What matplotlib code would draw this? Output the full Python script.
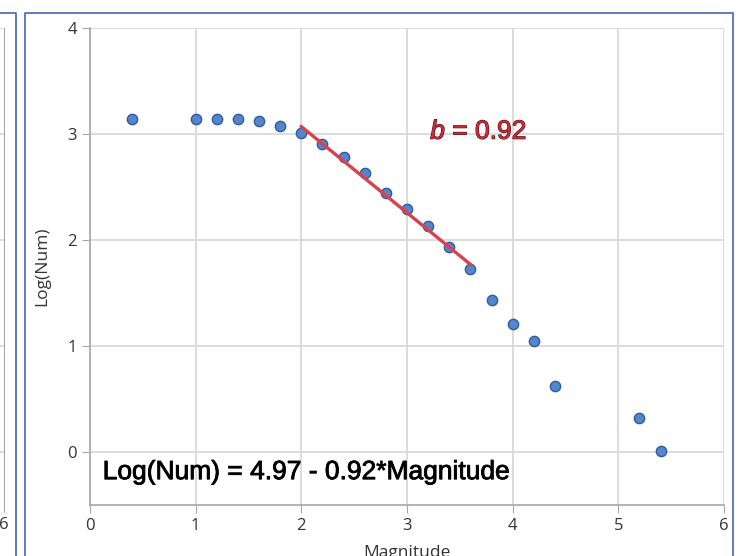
import matplotlib.pyplot as plt
import matplotlib.patheffects as pe
from matplotlib.lines import Line2D

# Data
magnitude = [0.4, 1.0, 1.2, 1.4, 1.6, 1.8, 2.0, 2.2, 2.4, 2.6, 2.8,
             3.0, 3.2, 3.4, 3.6, 3.8, 4.0, 4.2, 4.4, 5.2, 5.4]
log_num = [3.14, 3.14, 3.14, 3.14, 3.12, 3.08, 3.01, 2.91, 2.78, 2.63, 2.44,
           2.29, 2.13, 1.93, 1.73, 1.43, 1.21, 1.05, 0.62, 0.32, 0.01]
fit_x = [2.0, 3.6]
fit_y = [3.07, 1.77]
x_ticks = [0, 1, 2, 3, 4, 5, 6]
y_ticks = [0, 1, 2, 3, 4]
b_label = "$b$ = 0.92"
eq_label = "Log(Num) = 4.97 - 0.92*Magnitude"

plt.rcParams['font.family'] = ['Open Sans', 'DejaVu Sans']
plt.rcParams['mathtext.fontset'] = 'custom'
plt.rcParams['mathtext.rm'] = 'Liberation Sans'
plt.rcParams['mathtext.it'] = 'Liberation Sans:italic'

W, H = 756, 556
fig = plt.figure(figsize=(W / 100, H / 100), dpi=100)

def fx(px):
    return px / W

def fy(py):
    return 1 - py / H

grid_col = '#dcdcdc'
spine_col = '#a6a6a6'
tick_col = '#333333'
frame_col = '#4664c0'
top_px, bot_px = 28, 505

# window frames from the screenshot
for xs, ys in [([0, 16, 16], [12.5, 12.5, 556]),
               ([25, 25, 733, 733], [556, 12.5, 12.5, 556])]:
    fig.add_artist(Line2D([fx(v) for v in xs], [fy(v) for v in ys],
                          color=frame_col, lw=1.2))

# sliver of the neighbouring panel on the left
ax0 = fig.add_axes([fx(-40), fy(bot_px), fx(44), fy(top_px) - fy(bot_px)])
ax0.set_xlim(5.9, 6)
ax0.set_ylim(-0.5, 4)
ax0.set_xticks([6])
ax0.set_yticks(y_ticks)
ax0.set_yticklabels([])
ax0.tick_params(axis='y', length=0)
ax0.tick_params(axis='x', length=5, color=spine_col, labelcolor=tick_col,
                labelsize=12)
ax0.grid(True, axis='y', color=grid_col, lw=1.4)
for s in ['top', 'left', 'bottom']:
    ax0.spines[s].set_visible(False)
ax0.spines['right'].set_color(spine_col)
ax0.patch.set_alpha(0)

# main chart
ax = fig.add_axes([fx(90), fy(bot_px), fx(724) - fx(90), fy(top_px) - fy(bot_px)])
ax.set_xlim(0, 6)
ax.set_ylim(-0.5, 4)
ax.set_xticks(x_ticks)
ax.set_yticks(y_ticks)
ax.grid(True, color=grid_col, lw=1.4)
ax.set_axisbelow(True)
for s in ['top', 'right']:
    ax.spines[s].set_visible(False)
for s in ['left', 'bottom']:
    ax.spines[s].set_color(spine_col)
    ax.spines[s].set_linewidth(1.2)
ax.tick_params(length=6, color=spine_col, labelcolor=tick_col, labelsize=12)

ax.scatter(magnitude, log_num, s=55, color='#5585cc', edgecolor='#2f5c9e',
           linewidth=1.0, zorder=3)
ax.plot(fit_x, fit_y, color='#d9414e', lw=2.4, zorder=4)

ax.text(3.22, 3.02, b_label, color='#d42a36', fontsize=19,
        family='Liberation Sans', va='center', ha='left',
        path_effects=[pe.withStroke(linewidth=0.8, foreground='#3a0c10')])
ax.text(0.12, -0.19, eq_label, color='black', fontsize=19,
        family='Liberation Sans', va='center', ha='left',
        path_effects=[pe.withStroke(linewidth=0.6, foreground='black')])

ax.set_ylabel('Log(Num)', fontsize=12.5, color=tick_col, labelpad=12)
ax.set_xlabel('Magnitude', fontsize=12.5, color=tick_col, labelpad=8)

fig.savefig('out.png', dpi=100)
